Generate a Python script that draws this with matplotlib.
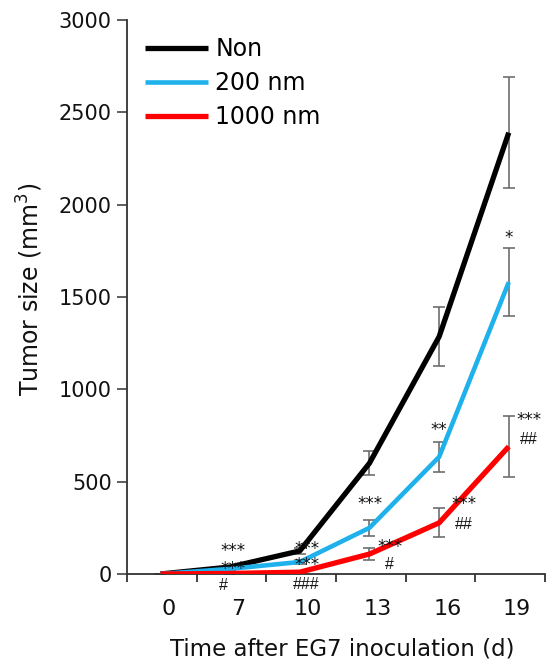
import numpy as np
import matplotlib
matplotlib.use("Agg")
import matplotlib.pyplot as plt
from matplotlib.transforms import offset_copy

# ---- data ----
days = ["0", "7", "10", "13", "16", "19"]
non = [0, 38, 125, 600, 1285, 2390]
non_err = [0, 8, 18, 65, 160, 300]
nm200 = [0, 28, 65, 250, 634, 1580]
nm200_err = [0, 6, 12, 45, 82, 185]
nm1000 = [0, 3, 10, 108, 277, 690]
nm1000_err = [0, 2, 4, 33, 78, 165]

series_names = ["Non", "200 nm", "1000 nm"]
series_colors = ["#000000", "#1eb1ec", "#ff0000"]

# significance marks: (label, x index, y value)
stars = [("***", 1.04, 150), ("***", 1.04, 56),
         ("***", 2.10, 165), ("***", 2.10, 76),
         ("***", 3.01, 406), ("***", 3.29, 173),
         ("**", 4.00, 807), ("***", 4.36, 406),
         ("*", 5.00, 1846), ("***", 5.29, 861)]
hashes = [("#", 0.91, -58), ("###", 2.09, -52), ("#", 3.29, 60),
          ("##", 4.36, 276), ("##", 5.29, 736)]

# ---- figure ----
fig = plt.figure(figsize=(5.58, 6.65), dpi=100)
ax = fig.add_axes([127 / 558, 91 / 665, 418 / 558, 554 / 665])

x = np.arange(len(days))
err_color = "#6e6e6e"
for vals, errs, name, col, lw in zip([non, nm200, nm1000],
                                     [non_err, nm200_err, nm1000_err],
                                     series_names, series_colors,
                                     [3.8, 3.3, 3.8]):
    ax.errorbar(x, vals, yerr=errs, fmt="none", ecolor=err_color,
                elinewidth=1.2, capsize=4.5, capthick=1.2, zorder=2)
    ax.plot(x, vals, color=col, lw=lw, label=name, zorder=3,
            solid_capstyle="butt", solid_joinstyle="round")

ax.set_xlim(-0.48, 5.52)
ax.set_ylim(0, 3000)
ax.set_yticks(np.arange(0, 3001, 500))
ax.tick_params(axis="y", labelsize=15, length=7, width=1.1,
               direction="out", pad=4, colors="#333333", labelcolor="#111111")

# x: tick marks between categories, labels near category points
ax.set_xticks(np.arange(7) - 0.48, minor=True)
ax.set_xticks(x + 0.12)
ax.set_xticklabels(days)
ax.tick_params(axis="x", which="major", length=0, labelsize=16, pad=18,
               labelcolor="#111111")
ax.tick_params(axis="x", which="minor", length=6, width=1.3,
               direction="out", colors="#333333")

for s in ["top", "right"]:
    ax.spines[s].set_visible(False)
for s in ["left", "bottom"]:
    ax.spines[s].set_linewidth(1.3)
    ax.spines[s].set_color("#333333")

ax.set_xlabel("Time after EG7 inoculation (d)", fontsize=16.5, color="#111111")
ax.xaxis.set_label_coords(0.5155, -0.114)
ax.set_ylabel("Tumor size (mm$^3$)", fontsize=17, color="#111111")
ax.yaxis.set_label_coords(-0.195, 0.513)

for lab, xi, yi in stars:
    fs = 12
    tr = offset_copy(ax.transData, fig=fig, y=-0.6 * fs, units="points")
    ax.text(xi, yi, lab, fontsize=fs, ha="center", va="baseline",
            transform=tr, color="#111111", zorder=5, clip_on=False)
for lab, xi, yi in hashes:
    fs = 11.5
    tr = offset_copy(ax.transData, fig=fig, y=-0.35 * fs, units="points")
    ax.text(xi, yi, lab, fontsize=fs, ha="center", va="baseline",
            transform=tr, color="#111111", zorder=5, clip_on=False,
            family="Liberation Sans")

leg = ax.legend(loc="upper left", bbox_to_anchor=(0.042, 0.969),
                frameon=False, fontsize=17, handlelength=2.7,
                handletextpad=0.3, labelspacing=0.42, borderpad=0,
                borderaxespad=0)

fig.savefig("out.png", dpi=100)
